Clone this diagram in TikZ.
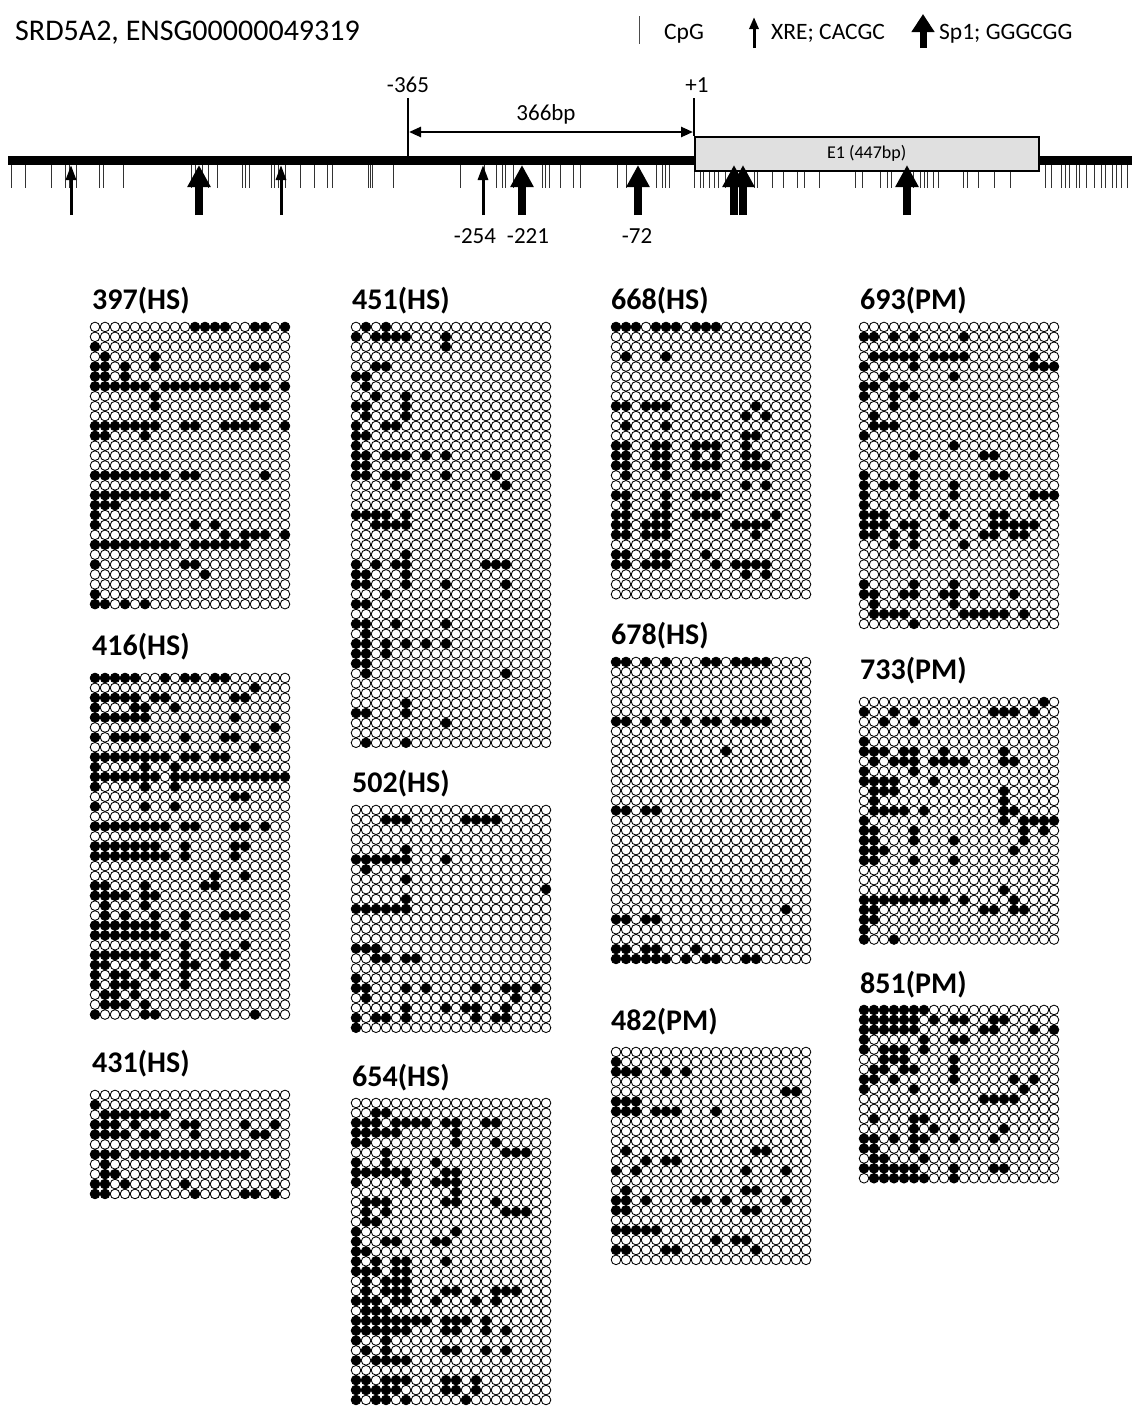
\documentclass[tikz,border=0pt]{standalone}
\usepackage{fontspec}
\setmainfont{Carlito}
\usetikzlibrary{arrows.meta}
\definecolor{exfill}{HTML}{E0E0E0}
\newcount\dcol
\def\dotrowparse#1{\ifx\relax#1\else\dotone#1\expandafter\dotrowparse\fi}
\def\fdotat{\path[fdot] (\gx+5+10*\the\dcol,\gy) circle[radius=4.8pt];}
\def\odotat{\path[odot] (\gx+5+10*\the\dcol,\gy) circle[radius=4.8pt];}
\def\dotone#1{\ifnum#1=1 \let\dotcmd\fdotat\else\let\dotcmd\odotat\fi\dotcmd\advance\dcol by 1\relax}
\newcommand\dotgrid[3]{%
  \foreach \rw [count=\ri from 0] in {#3}{%
    \pgfmathsetmacro\gy{#2+4.95+9.9*\ri}%
    \def\gx{#1}%
    \dcol=0
    \expandafter\dotrowparse\rw\relax
  }}
\tikzset{
  odot/.style={draw=black, line width=0.85pt},
  fdot/.style={fill=black, draw=black, line width=0.85pt},
  glabel/.style={anchor=base west, inner sep=0pt, font=\fontsize{30}{34}\selectfont\bfseries},
  num/.style={anchor=base, inner sep=0pt, font=\fontsize{23}{26}\selectfont},
  legtxt/.style={anchor=base west, inner sep=0pt, font=\fontsize{23.5}{26}\selectfont},
  cpgtick/.style={line width=0.8pt, black!80},
  xrearrow/.style={line width=3pt, -{Triangle[length=15pt,width=10pt]}},
  sparrow/.style={line width=8pt, -{Triangle[length=22pt,width=22pt]}},
}
\begin{document}
\begin{tikzpicture}[x=1pt,y=-1pt]
\useasboundingbox (0,0) rectangle (1132,1406);
% title
\node[anchor=base west, inner sep=0pt, font=\fontsize{30}{36}\selectfont] (title) at (15,40) {SRD5A2, ENSG00000049319};
% legend
\coordinate (lgA) at (639,16); \coordinate (lgB) at (639,44);
\draw[line width=0.8pt, black!70] (lgA) -- (lgB);
\node[legtxt] (lcpg) at (664,39) {CpG};
\coordinate (lxA) at (754,48); \coordinate (lxB) at (754,17);
\draw[line width=3pt, -{Triangle[length=12pt,width=9pt]}] (lxA) -- (lxB);
\node[legtxt] (lxre) at (771,39) {XRE; CACGC};
\coordinate (lsA) at (923,48); \coordinate (lsB) at (923,14);
\draw[line width=7pt, -{Triangle[length=18pt,width=22pt]}] (lsA) -- (lsB);
\node[legtxt] (lsp) at (939,39) {Sp1; GGGCGG};
% CpG ticks
\foreach \x in {11,25,51,65,69,76,99,103,123,191,195,202,208,217,242,245,249,271,274,278,285,300,314,327,332,368,370,372,393,460,484,496,502,505,513,542,545,549,560,573,580,617,626,656,662,665,669,694,700,703,709,714,718,725,746,754,757,772,783,797,804,819,855,862,880,887,891,913,920,924,927,933,938,963,967,978,994,1010,1045,1051,1061,1065,1069,1076,1079,1086,1094,1101,1105,1112,1116,1121,1127}
  \draw[cpgtick] (\x,164) -- (\x,188);
% main line
\coordinate (gL) at (8,160); \coordinate (gR) at (1132,160);
\draw[line width=9pt] (gL) -- (gR);
% -365 and +1
\node[num] (m365) at (408,92) {-365};
\node[num] (p1) at (697,92) {+1};
\coordinate (m365a) at (408,98); \coordinate (m365b) at (408,156);
\coordinate (p1a) at (694,98); \coordinate (p1b) at (694,136);
\draw[line width=1.2pt] (m365a) -- (m365b);
\draw[line width=1.2pt] (p1a) -- (p1b);
\coordinate (brA) at (409,132); \coordinate (brB) at (693,132);
\draw[line width=2.5pt, {Triangle[length=12pt,width=10pt]}-{Triangle[length=12pt,width=10pt]}] (brA) -- (brB);
\node[num] (bp) at (546,120) {366bp};
% exon
\node[draw=black, line width=1.5pt, fill=exfill, minimum width=344pt, minimum height=34pt, inner sep=0pt, anchor=north west, font=\fontsize{18}{20}\selectfont] (e1) at (694,136) {E1 (447bp)};
% XRE arrows
\foreach \x [count=\i] in {71,281,483} {
  \coordinate (xa\i) at (\x,215); \coordinate (xb\i) at (\x,165);
  \draw[xrearrow] (xa\i) -- (xb\i);
}
% Sp1 arrows
\foreach \x [count=\i] in {199,522,638,734,743,907} {
  \coordinate (sa\i) at (\x,215); \coordinate (sb\i) at (\x,165);
  \draw[sparrow] (sa\i) -- (sb\i);
}
\node[num] (n254) at (475,243) {-254};
\node[num] (n221) at (528,243) {-221};
\node[num] (n72) at (637,243) {-72};
% labels
\node[glabel] (l397) at (92,309) {397(HS)};
\node[glabel] (l416) at (92,655) {416(HS)};
\node[glabel] (l431) at (92,1072) {431(HS)};
\node[glabel] (l451) at (352,309) {451(HS)};
\node[glabel] (l502) at (352,792) {502(HS)};
\node[glabel] (l654) at (352,1086) {654(HS)};
\node[glabel] (l668) at (611,309) {668(HS)};
\node[glabel] (l678) at (611,644) {678(HS)};
\node[glabel] (l482) at (611,1030) {482(PM)};
\node[glabel] (l693) at (860,309) {693(PM)};
\node[glabel] (l733) at (860,679) {733(PM)};
\node[glabel] (l851) at (860,993) {851(PM)};
% 397
\dotgrid{90}{322}{00000000001111001101,00000000000000000000,10000000000000000000,01000010000000000000,11010010000000001100,11010000000000000000,11111101111111101101,00000010000000000000,00000010000000001100,00000000000000000000,11111110011001111001,11000100000000000000,00000000000000000000,00000000000000000000,00000000000000000000,11111111011000000100,00000000000000000000,11111111000000000000,11100000000000000000,10000000000000000000,10000000001010000000,00000000000001011101,11111111101111110000,00000000000000000000,10000000011000000000,00000000000100000000,00000000000000000000,10000000000000000000,11010100000000000000}
% 416
\dotgrid{90}{673}{11111001011011000000,00000000000000001000,11111011000000110000,10001100100000000000,11111100000000100000,00000000000000000010,10111100010001100000,00000000000000001000,11111111011011000000,10000100100000000000,11111110111111111111,10000100100000000000,00000000000000110000,10000100100000000000,00000000000000000000,11111111011000110100,00000000000000000000,11111110010000110000,11111111010000100000,00000000000000000000,00000000000010010000,11000100000110000000,11110110000000000000,01000100000000000000,01010010010001110000,11111110010000000000,11111111000000000000,00000000010000010000,11111110010001100000,11000100011001000000,10110010010000000000,10111000010000000000,01101000000000000000,01110100000000000000,10000110000000001000}
% 431
\dotgrid{90}{1090}{00000000000000000000,10000000000000000000,01111111000000000000,11101000011000010010,11110110001000001100,00000000000000000000,11101111111111110000,01000000000000000000,01100000000000000000,11010000010000000000,11000000001000011010}
% 451
\dotgrid{351}{322}{01010000000000000000,10111100010000000000,00000000010000000000,00000000000000000000,00110000000000000000,11000000000000000000,01000000000000000000,00100100000000000000,11000100000000000000,01000100000000000000,10011000000000000000,11000000000000000000,10000000000000000000,11011101010000000000,11000000000000000000,11011100010000100000,00001000000000010000,00000000000000000000,00000000000000000000,11110100000000000000,00111100000000000000,00000000000000000000,00000000000000000000,00000100000000000000,10101100000001110000,11000100000000000000,11000100010000010000,00010000000000000000,11000000000000000000,00000000000000000000,11001000010000000000,01000000000000000000,11010101010000000000,11010000000000000000,11000000000000000000,01000000000000010000,00000000000000000000,00000000000000000000,00000100000000000000,11000100000000000000,00000000010000000000,00000000000000000000,01000100000000000000}
% 502
\dotgrid{351}{805}{00000000000000000000,00011100000111100000,00000000000000000000,00000000000000000000,00000100000000000000,11111100010000000000,01000000000000000000,00000100000000000000,00000000000000000001,00000100000000000000,11111100000000000000,00000000000000000000,00000000000000000000,00000000000000000000,11100000000000000000,00110110000000000000,00000000000000000000,10000000000000000000,11000101000010011010,01000000000000001000,00000100010110010000,10110100000010110000,10000000000000000000}
% 654
\dotgrid{351}{1098}{00000000000000000000,00110000000000000000,11101111011001100000,11111000001000000000,11000000001000100000,00010000000000011100,10010000100000000000,11111100011000000000,10000100111000000000,00000000001000000000,01110000011000100000,01010000000000011100,01100000000000000000,10000000001000000000,10011000110000000000,11000000000000000000,10101100010000000000,11101100000000000000,01011100000000000000,01011100011000111000,11101100100010100000,01110000000000000000,11111111011101000000,11111100011001010000,10010000000000000000,01010000011001010000,10111100000000000000,00000000000000000000,11011100011010000000,11111000011010000000,10110100000100000000}
% 668
\dotgrid{611}{322}{11101110111000000000,00000000000000000000,00000000000000000000,01000100000000000000,00000000000000000000,00000000000000000000,00000000000000000000,00000000000000000000,11011100000000100000,00000000000001010000,01000100000000000000,00000000000001100000,11001100111001000000,11001100101001100000,11001100111001110000,01000100000000000000,00000000000001010000,11000100111000000000,01000100000000000000,11001100111000001000,11011100000011110000,11011100000000100000,00000000000000000000,11001100010000000000,11011100001011110000,00000000000001010000,00000000000000000000,00000000000000000000}
% 678
\dotgrid{611}{657}{11010100011011110000,00000000000000000000,00000000000000000000,00000000000000000000,00000000000000000000,00000000000000000000,11010101011011110000,00000000000000000000,00000000000000000000,00000000000100000000,00000000000000000000,00000000000000000000,00000000000000000000,00000000000000000000,00000000000000000000,11011000000000000000,00000000000000000000,00000000000000000000,00000000000000000000,00000000000000000000,00000000000000000000,00000000000000000000,00000000000000000000,00000000000000000000,00000000000000000000,00000000000000000100,11011000000000000000,00000000000000000000,00000000000000000000,11011000100000000000,11111101011001100000}
% 482
\dotgrid{611}{1047}{00000000000000000000,10000000000000000000,11100101000000000000,00000000000000000000,00000000000000000110,11100000000000000000,11101110001000000000,00000000000000000000,00000000000000000000,00000000000000000000,01000000000000110000,00010110000000000000,10100000000001000100,00000000000000000000,01000000000001100000,11010000110100000100,11000000000001100000,00000000000000000000,11111000000000000000,00000000001011000000,11000110000000100000,00000000000000000000}
% 693
\dotgrid{859}{322}{00000000000000000000,11010100001000000000,00000000000000000000,01111101111000000100,10000100000000000111,00100000010000000000,11011000000000000000,10010100000000000000,00010000000000000000,01000000000000000000,01110000000000000000,10000000000000000000,00000000010000000000,00000100000011000000,00000000000000000000,10000100000001100000,10110100010000000000,10000100010000000111,10000000000000000000,11100000100001100000,11101100010001111100,11010100000011011000,00010100001000000000,00000000000000000000,00000000000000000000,00000000000000000000,10000100010000000000,11001100110100010000,01000000010000000000,01111000001111101000,00000100000000000000}
% 733
\dotgrid{859}{697}{00000000000000000010,10010000000001110100,00100100000000000000,00000000000000000000,10000000000000000000,11101100100000100000,01011101111000110000,10000100000000000000,11110001000000000000,01110000000000100000,01000000000000100000,01111010000000110000,10000000000000101111,11000100000000001010,11000100010000001000,11100000000000010000,11000100010000000000,00000000000000000000,00000000000000000000,00000000000000100000,11111111101000010000,11000000000011011000,11000000000000000000,10000000000000000000,10010000000000000000}
% 851
\dotgrid{859}{1005}{11111110000000000000,11111101011001100000,11111100000011000101,10000010011000000000,10111010000000000000,00111000010000000000,01101100010000000000,11010000010000010100,10000100000000001000,00000000000011110000,00000000000000000000,01000110000000000000,00000101000000100000,11010110010001000000,11000100000000000000,01100010000000000000,11111100010001100000,01111110010000000000}
\end{tikzpicture}
\end{document}
